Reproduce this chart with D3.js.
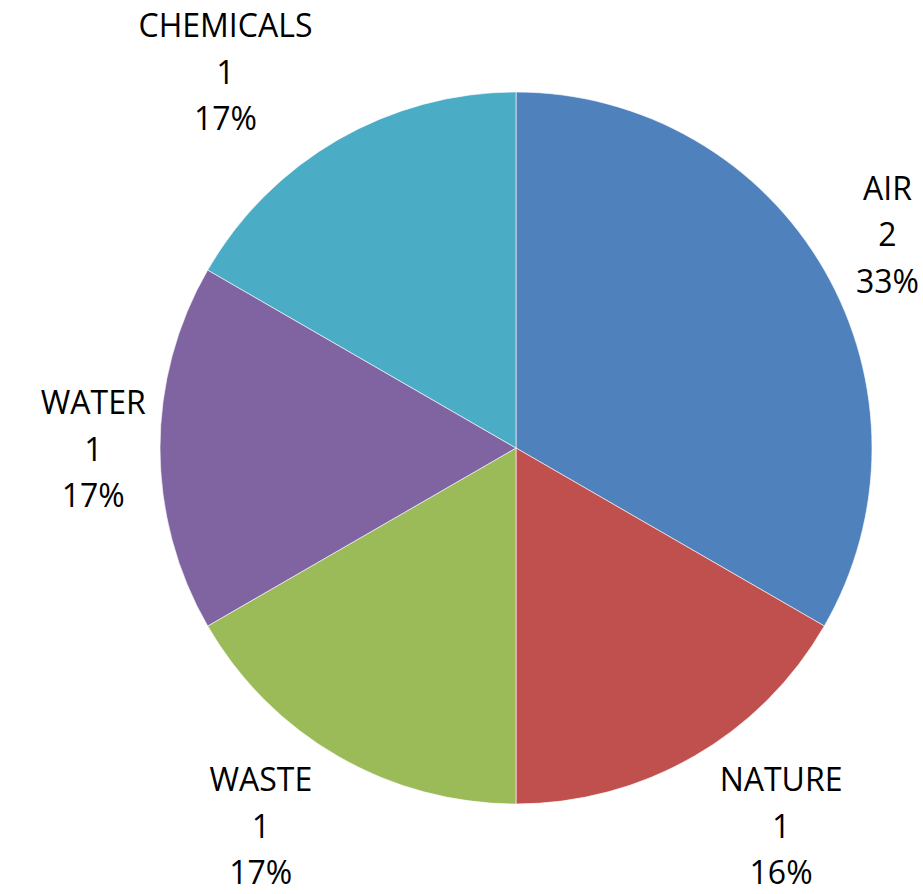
<!DOCTYPE html>
<html>
<head>
<meta charset="utf-8">
<script src="https://cdn.jsdelivr.net/npm/d3@7"></script>
<style>
  body { margin: 0; background: #fff; }
  svg { display: block; }
  .lbl { font-family: "Open Sans", sans-serif; font-size: 32px; fill: #000; }
</style>
</head>
<body>
<div id="chart"></div>
<script>
// data
var categories = ["AIR", "NATURE", "WASTE", "WATER", "CHEMICALS"];
var values = [2, 1, 1, 1, 1];
var pctLabels = ["33%", "16%", "17%", "17%", "17%"];
var colors = ["#4F81BD", "#C0504D", "#9BBB59", "#8064A2", "#4BACC6"];

var width = 923,
    height = 894,
    cx = 516,
    cy = 448,
    radius = 356,
    gap = 14,
    lineStep = 46.5;

var svg = d3.select("#chart").append("svg")
  .attr("width", width)
  .attr("height", height);

var rows = categories.map(function(c, i) {
  return { name: c, value: values[i], pct: pctLabels[i], color: colors[i] };
});

var pie = d3.pie().sort(null).value(function(d) { return d.value; });
var arc = d3.arc().innerRadius(0).outerRadius(radius);
var arcs = pie(rows);

var slices = svg.append("g").attr("transform", "translate(" + cx + "," + cy + ")");
slices.selectAll("path").data(arcs).enter().append("path")
  .attr("d", arc)
  .attr("fill", function(d) { return d.data.color; })
  .attr("stroke", "#fff")
  .attr("stroke-opacity", 0.6)
  .attr("stroke-width", 1);

// distance from pie centre to nearest point of a box
function boxDist(x0, y0, x1, y1) {
  var dx = Math.max(x0 - cx, 0, cx - x1);
  var dy = Math.max(y0 - cy, 0, cy - y1);
  return Math.sqrt(dx * dx + dy * dy);
}

var labels = svg.append("g");
arcs.forEach(function(a) {
  var mid = (a.startAngle + a.endAngle) / 2;
  var ux = Math.sin(mid), uy = -Math.cos(mid);
  var g = labels.append("g");
  var t = g.append("text").attr("class", "lbl").attr("text-anchor", "middle");
  [a.data.name, a.data.value, a.data.pct].forEach(function(s, k) {
    t.append("tspan").attr("x", 0).attr("dy", k === 0 ? 0 : lineStep).text(s);
  });
  var b = t.node().getBBox();
  var hw = b.width / 2, hh = b.height / 2;
  var bcx = b.x + hw, bcy = b.y + hh;

  // push the box out along the mid angle until it clears the pie
  var lo = 0, hi = 1000;
  for (var i = 0; i < 40; i++) {
    var m = (lo + hi) / 2;
    var px = cx + ux * m, py = cy + uy * m;
    if (boxDist(px - hw, py - hh, px + hw, py + hh) >= radius + gap) hi = m; else lo = m;
  }
  var x = cx + ux * hi, y = cy + uy * hi;
  // keep it inside the chart area
  x = Math.max(11 + hw, Math.min(width - 11 - hw, x));
  y = Math.max(3 + hh, Math.min(height - 1 - hh, y));
  // slide sideways if clamping pushed it back onto the pie
  var dir = ux < 0 ? -1 : 1;
  var n = 0;
  while (boxDist(x - hw, y - hh, x + hw, y + hh) < radius + gap && n < 2000) {
    x += dir * 0.5; n++;
  }
  g.attr("transform", "translate(" + (x - bcx) + "," + (y - bcy) + ")");
});
</script>
</body>
</html>
